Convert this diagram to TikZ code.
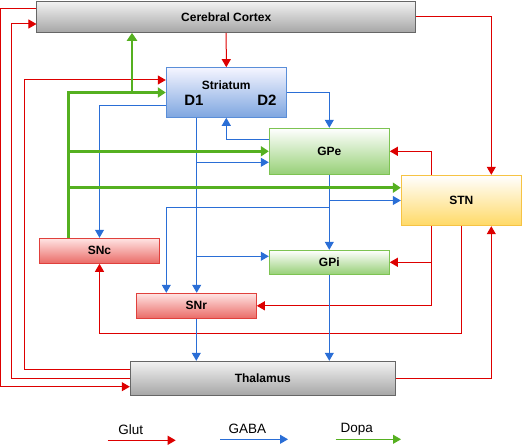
\documentclass[tikz,border=0pt]{standalone}
\usepackage{fontspec}
\setmainfont{Liberation Sans}
\usetikzlibrary{arrows.meta}
\definecolor{glutc}{HTML}{DD0000}
\definecolor{gabac}{HTML}{2A6ED6}
\definecolor{dopac}{HTML}{55B020}
\definecolor{stbot}{HTML}{7EA6E0}
\definecolor{stdraw}{HTML}{5A8ED8}
\definecolor{gbot}{HTML}{97D077}
\definecolor{gdraw}{HTML}{7DC352}
\definecolor{ybot}{HTML}{FFD966}
\definecolor{ydraw}{HTML}{F6C344}
\definecolor{rtop}{HTML}{FFE4E4}
\definecolor{rbot}{HTML}{EA6B66}
\definecolor{rdraw}{HTML}{E0403C}
\tikzset{
  box/.style={draw, line width=1pt, inner sep=0pt, font=\fontsize{12}{14}\selectfont\bfseries},
  graybox/.style={box, draw=black!60, top color=white!95!black, bottom color=black!35},
  bluebox/.style={box, draw=stdraw, top color=blue!4, bottom color=stbot},
  greenbox/.style={box, draw=gdraw, top color=white, bottom color=gbot},
  yellowbox/.style={box, draw=ydraw, top color=white, bottom color=ybot},
  redbox/.style={box, draw=rdraw, top color=rtop, bottom color=rbot},
  glut/.style={draw=glutc, line width=1pt, -{Triangle[length=8pt,width=9pt]}},
  gaba/.style={draw=gabac, line width=1pt, -{Triangle[length=8pt,width=9pt]}},
  dopa/.style={draw=dopac, line width=2.5pt, -{Triangle[length=8pt,width=10pt]}},
  legtext/.style={font=\fontsize{13.5}{15}\selectfont, inner sep=0pt},
}
\begin{document}
\begin{tikzpicture}[x=1pt,y=-1pt]
\useasboundingbox (0,0) rectangle (522,446);
% nodes
\node[graybox, minimum width=378.5pt, minimum height=31pt] (cortex) at (226.2,16.8) {Cerebral Cortex};
\node[bluebox, minimum width=120pt, minimum height=49.6pt] (striatum) at (226.3,92.5) {};
\node[font=\fontsize{12}{14}\selectfont\bfseries] (strlab) at (226.3,85) {Striatum};
\node[font=\fontsize{15}{17}\selectfont\bfseries] (d1lab) at (194,100) {D1};
\node[font=\fontsize{15}{17}\selectfont\bfseries] (d2lab) at (267,100) {D2};
\node[greenbox, minimum width=120pt, minimum height=46pt] (gpe) at (329.3,151.3) {GPe};
\node[yellowbox, minimum width=120pt, minimum height=50.4pt] (stn) at (461.3,200.5) {STN};
\node[redbox, minimum width=120.4pt, minimum height=25pt] (snc) at (99.5,250.8) {SNc};
\node[greenbox, minimum width=120pt, minimum height=24pt] (gpi) at (329.3,262.3) {GPi};
\node[redbox, minimum width=120pt, minimum height=25pt] (snr) at (196.3,305.8) {SNr};
\node[graybox, minimum width=265pt, minimum height=34pt] (thal) at (262.8,378.3) {Thalamus};
% Glut
\draw[glut] (cortex.south) -- (striatum.north);
\draw[glut] (cortex.east) -| ([xshift=30pt]stn.north);
\draw[glut] ([yshift=8.5pt]cortex.west) -- ++(-36,0) |- ([yshift=-8.4pt]thal.west);
\draw[glut] (thal.west) -- ++(-118,0) |- ([yshift=-7.2pt]cortex.west);
\draw[glut] ([yshift=9pt]thal.west) -- ++(-105,0) |- ([yshift=12.5pt]striatum.west);
\draw[glut] ([xshift=-29.6pt]stn.north) |- (gpe.east);
\draw[glut] ([xshift=-29.6pt]stn.south) |- (gpi.east);
\draw[glut] ([xshift=-29.6pt]stn.south) |- (snr.east);
\draw[glut] (stn.south) -- ++(0,107.6) -| (snc.south);
\draw[glut] (thal.east) -| ([xshift=30pt]stn.south);
% GABA
\coordinate (d1) at ([xshift=-29.6pt]striatum.south);
\coordinate (gpeIn) at ([yshift=-11pt]gpe.west);
\coordinate (gpiIn) at ([yshift=6pt]gpi.west);
\draw[gaba] ([yshift=0.2pt]striatum.east) -| (gpe.north);
\draw[gaba] ([yshift=-12.8pt]striatum.west) -| (snc.north);
\draw[gaba] ([yshift=12pt]gpe.west) -| (striatum.south);
\draw[gaba] (d1) -- (d1 |- snr.north);
\draw[gaba] (d1 |- gpeIn) -- (gpeIn);
\draw[gaba] (d1 |- gpiIn) -- (gpiIn);
\draw[gaba] (gpe.south) -- (gpi.north);
\draw[gaba] (gpe.south |- stn.west) -- (stn.west);
\draw[gaba] ([yshift=-33pt]gpe.south) -| ([xshift=-30pt]snr.north);
\draw[gaba] (snr.south) -- (snr.south |- thal.north);
\draw[gaba] (gpi.south) -- (gpi.south |- thal.north);
% Dopa
\coordinate (dsrc) at ([xshift=-30.8pt]snc.north);
\coordinate (dc) at ([xshift=-94.2pt]cortex.south);
\coordinate (stnG) at ([yshift=12.8pt]stn.west);
\draw[dopa] (dsrc) |- (striatum.west);
\draw[dopa] (dc |- striatum.west) -- (dc);
\draw[dopa] (dsrc |- gpe.west) -- (gpe.west);
\draw[dopa] (dsrc |- stnG) -- (stnG);
% legend
\node[legtext] (lglut) at (130.7,430) {Glut};
\node[legtext] (lgaba) at (247.3,429) {GABA};
\node[legtext] (ldopa) at (356.7,429) {Dopa};
\coordinate (g1a) at (107.7,440.3); \coordinate (g1b) at (175.7,440.3);
\coordinate (g2a) at (220,439.3); \coordinate (g2b) at (288,439.3);
\coordinate (g3a) at (335.7,439.3); \coordinate (g3b) at (401,439.3);
\draw[glut] (g1a) -- (g1b);
\draw[gaba] (g2a) -- (g2b);
\draw[draw=dopac, line width=1pt, -{Triangle[length=8pt,width=9pt]}] (g3a) -- (g3b);
\end{tikzpicture}
\end{document}
